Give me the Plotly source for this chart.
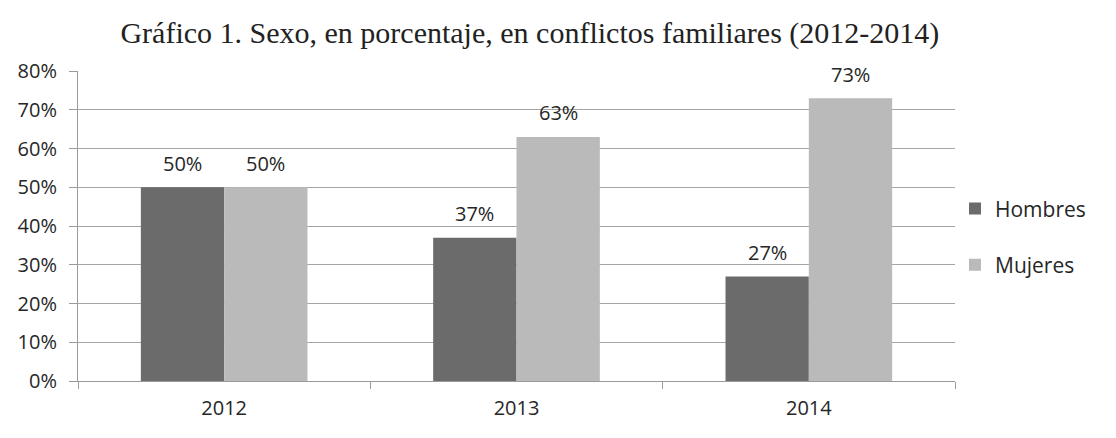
import plotly.graph_objects as go

years = ["2012", "2013", "2014"]
hombres = [50, 37, 27]
mujeres = [50, 63, 73]
y_ticks = [0, 10, 20, 30, 40, 50, 60, 70, 80]

# page body has an 8px margin, so the figure is drawn 8px smaller
W, H = 1108, 430
L, R, T, B = 70, 161, 63, 57
BARGAP = 0.43

label_font = dict(family="Open Sans, sans-serif", size=20, color="#262626")

fig = go.Figure()
fig.add_bar(x=years, y=hombres, name="Hombres", legendgroup="h",
            marker=dict(color="#6b6b6b", line=dict(width=0)))
fig.add_bar(x=years, y=mujeres, name="Mujeres", legendgroup="m",
            marker=dict(color="#bababa", line=dict(width=0)))

# value labels above each bar (x given as category index, since the
# year strings would be read as numbers)
cat_w = (W - L - R) / len(years)
half = cat_w * (1 - BARGAP) / 4
for vals, shift in ((hombres, -half), (mujeres, half)):
    for i, v in enumerate(vals):
        fig.add_annotation(x=i, y=v, text=f"{v}%", showarrow=False,
                           xshift=shift, yshift=24, yanchor="middle",
                           font=label_font)

fig.update_layout(
    width=W, height=H,
    paper_bgcolor="white", plot_bgcolor="white",
    margin=dict(l=L, r=R, t=T, b=B, autoexpand=False),
    barmode="group", bargap=BARGAP, bargroupgap=0,
    title=dict(
        text="Gráfico 1. Sexo, en porcentaje, en conflictos familiares (2012-2014)",
        font=dict(family="Liberation Serif, serif", size=30, color="#222222"),
        x=0.471, xanchor="center", y=0.944, yanchor="middle",
    ),
    legend=dict(
        x=1.0, y=0.465, xanchor="left", yanchor="middle",
        font=dict(family="Open Sans, sans-serif", size=21, color="#262626"),
        tracegroupgap=26, itemwidth=30, traceorder="grouped",
    ),
)
fig.update_xaxes(
    type="category", range=[-0.5, 2.5],
    showline=True, linecolor="#9a9a9a", linewidth=1,
    tickson="boundaries", ticks="outside", ticklen=7, tickcolor="#9a9a9a",
    showgrid=False, tickfont=label_font, tickangle=0, ticklabelstandoff=9,
)
fig.update_yaxes(
    range=[0, 80], tickvals=y_ticks, ticktext=[f"{v}%" for v in y_ticks],
    showline=True, linecolor="#9a9a9a", linewidth=1,
    ticks="outside", ticklen=8, tickcolor="#9a9a9a",
    showgrid=True, gridcolor="#a6a6a6", gridwidth=1,
    tickfont=label_font, zeroline=False, ticklabelstandoff=8,
)

fig.write_html("out.html")
